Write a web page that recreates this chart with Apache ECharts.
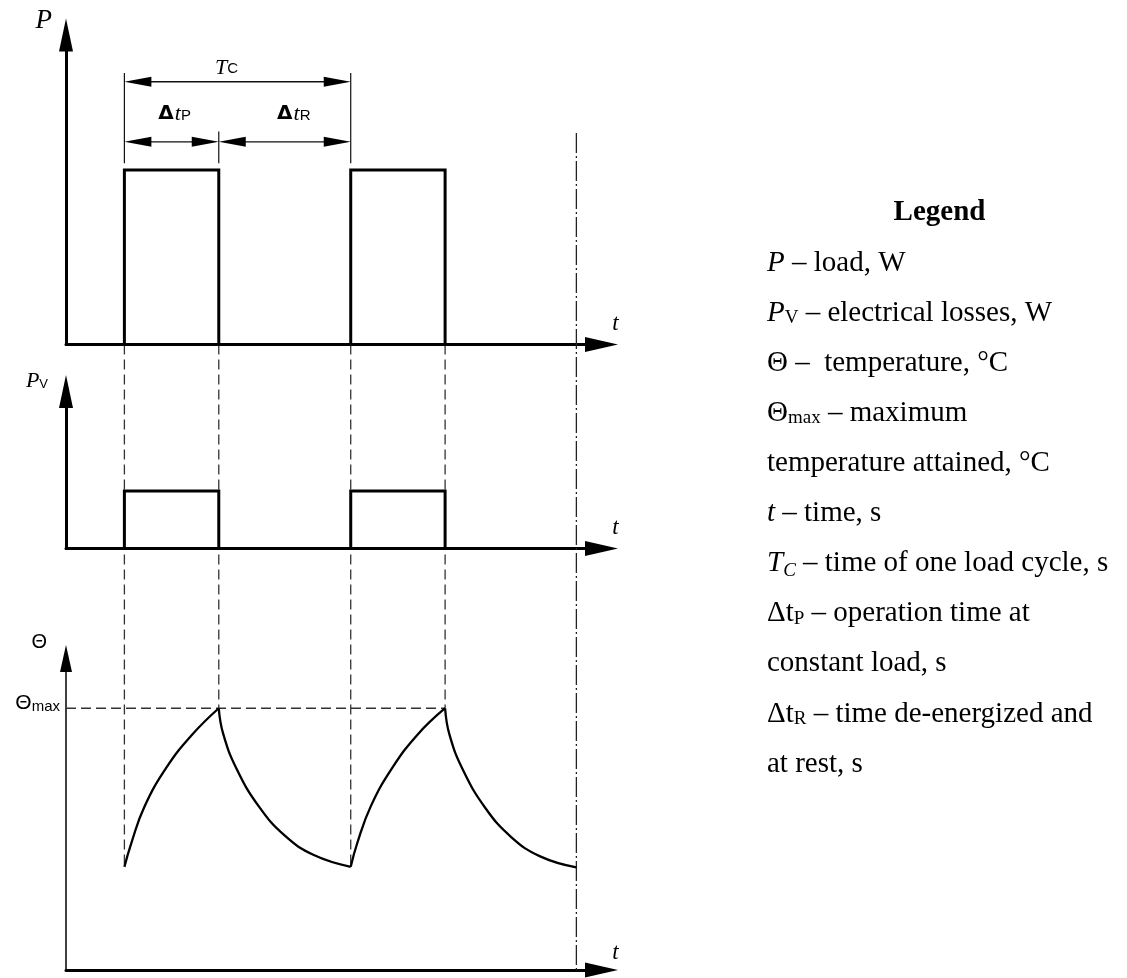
<!DOCTYPE html>
<html>
<head>
<meta charset="utf-8">
<script src="https://cdn.jsdelivr.net/npm/echarts@6/dist/echarts.min.js"></script>
<style>
  html, body { margin: 0; padding: 0; background: #fff; }
  #chart { width: 1127px; height: 978px; }
</style>
</head>
<body>
<div id="chart"></div>
<script>
// ---- duty cycle data (time in s, schematic units) ----
const pulseOn  = [2.58, 12.58];   // load switched on
const pulseOff = [6.75, 16.75];   // load switched off
const cycleEnd = 22.55;           // end of the second load cycle
const timeMax  = 23.66;

const loadLevel = 5.64;           // P while operating
const lossLevel = 3.66;           // P_V while operating
const thetaMax  = 100;            // Θmax

// temperature Θ over time: [t, Θ]
const heating1 = [[2.58, 39.4], [2.89, 48.6], [3.46, 62.3], [4.44, 77.4], [5.54, 89.6], [6.75, 100]];
const cooling1 = [[6.75, 100], [6.94, 90.4], [7.53, 77.0], [8.52, 62.5], [9.67, 51.3], [10.95, 43.9], [12.58, 39.4]];
const heating2 = [[12.58, 39.4], [12.88, 48.8], [13.47, 62.6], [14.40, 77.0], [15.52, 89.8], [16.75, 100]];
const cooling2 = [[16.75, 100], [16.94, 90.0], [17.53, 76.6], [18.52, 62.0], [19.67, 50.8], [20.95, 43.4], [22.55, 39.2]];

// dimension labels above the P diagram
const dimLabels = ['{it|T}{sub|C}', '{d|Δ}{it|t}{sub|P}', '{d|Δ}{it|t}{sub|R}'];

// explanation of symbols
const legendTitle = 'Legend';
const legendRows = [
  '{i|P} – load, W',
  '{i|P}{s|V} – electrical losses, W',
  'Θ –  temperature, °C',
  'Θ{s|max} – maximum',
  'temperature attained, °C',
  '{i|t} – time, s',
  '{i|T}{is|C} – time of one load cycle, s',
  'Δt{s|P} – operation time at',
  'constant load, s',
  'Δt{s|R} – time de-energized and',
  'at rest, s'
];

// ---- drawing ----
const BLACK = '#000';
const SERIF = 'Liberation Serif';
const SANS = 'Liberation Sans';

function pulseData(level) {
  const d = [];
  pulseOn.forEach((on, i) => {
    d.push([on, 0], [on, level], [pulseOff[i], level], [pulseOff[i], 0]);
  });
  return d;
}

const cycleDimLevel = 8.49;   // P-axis height of the T_C dimension
const phaseDimLevel = 6.55;   // P-axis height of the Δt dimensions
const dimData = [
  [pulseOn[0], pulseOn[1], cycleDimLevel],
  [pulseOn[0], pulseOff[0], phaseDimLevel],
  [pulseOff[0], pulseOn[1], phaseDimLevel]
];
const dimLook = [{ dx: -11, rise: 14 }, { dx: 3, rise: 27.5 }, { dx: 9, rise: 27.5 }];
const extData = [
  [pulseOn[0], 5.86, 8.77],
  [pulseOff[0], 5.86, 6.88],
  [pulseOn[1], 5.86, 8.77]
];
const dashDotTop = 6.83;

const dimRich = {
  it:  { fontFamily: SERIF, fontStyle: 'italic', fontSize: 22, fill: BLACK },
  sub: { fontFamily: SANS, fontSize: 15, fill: BLACK, padding: [3, 0, 0, 0] },
  d:   { fontFamily: 'DejaVu Sans', fontWeight: 'bold', fontSize: 20, fill: BLACK, padding: [0, 1, 0, 0] }
};

function renderDimension(params, api) {
  const i = params.dataIndex;
  const a = api.coord([api.value(0), api.value(2)]);
  const b = api.coord([api.value(1), api.value(2)]);
  const L = 27, w = 5;
  return {
    type: 'group',
    children: [
      { type: 'line', shape: { x1: a[0] + 10, y1: a[1], x2: b[0] - 10, y2: b[1] },
        style: { stroke: '#111', lineWidth: 1.3 } },
      { type: 'polygon', shape: { points: [[a[0], a[1]], [a[0] + L, a[1] - w], [a[0] + L, a[1] + w]] },
        style: { fill: BLACK } },
      { type: 'polygon', shape: { points: [[b[0], b[1]], [b[0] - L, b[1] - w], [b[0] - L, b[1] + w]] },
        style: { fill: BLACK } },
      { type: 'text', x: (a[0] + b[0]) / 2 + dimLook[i].dx, y: a[1] - dimLook[i].rise,
        style: { text: dimLabels[i], rich: dimRich, align: 'center', verticalAlign: 'middle',
                 fontFamily: SERIF, fontSize: 22, fill: BLACK } }
    ]
  };
}

function renderExtension(params, api) {
  const a = api.coord([api.value(0), api.value(1)]);
  const b = api.coord([api.value(0), api.value(2)]);
  return { type: 'line', shape: { x1: a[0], y1: a[1], x2: b[0], y2: b[1] },
           style: { stroke: '#111', lineWidth: 1.2 } };
}

const gridBox = [
  { top: 35,    height: 309.5 },
  { top: 391.5, height: 157 },
  { top: 658.5, height: 311.5 }
];

// the time label sits above the end of each time axis
const tNameStyle = (raise) => ({
  align: 'center', verticalAlign: 'middle',
  rich: {
    t: { fontFamily: SERIF, fontStyle: 'italic', fontSize: 23, color: BLACK,
         padding: [0, 0, raise * 2, 0] }
  }
});

const option = {
  animation: false,
  backgroundColor: '#fff',
  grid: gridBox.map(g => ({
    left: 66, width: 535.5, top: g.top, height: g.height,
    containLabel: false, outerBoundsMode: 'none'
  })),
  xAxis: [21, 21, 17.5].map((raise, i) => ({
    gridIndex: i, type: 'value', min: 0, max: timeMax,
    axisLine: { show: true, onZero: false, symbol: ['none', 'triangle'], symbolSize: [15, 33],
                lineStyle: { color: BLACK, width: 3 } },
    axisTick: { show: false }, axisLabel: { show: false }, splitLine: { show: false },
    name: '{t|t}', nameLocation: 'end', nameGap: 14, nameMoveOverlap: false,
    nameTextStyle: tNameStyle(raise)
  })),
  yAxis: [
    {
      gridIndex: 0, type: 'value', min: 0, max: 10,
      axisLine: { show: true, onZero: false, symbol: ['none', 'triangle'], symbolSize: [14, 33],
                  lineStyle: { color: BLACK, width: 3 } },
      axisTick: { show: false }, axisLabel: { show: false }, splitLine: { show: false },
      name: 'P', nameLocation: 'end', nameGap: 14, nameMoveOverlap: false,
      nameTextStyle: { fontFamily: SERIF, fontStyle: 'italic', fontSize: 27, color: BLACK,
                       align: 'right', verticalAlign: 'middle', padding: [0, 14, 0, 0] }
    },
    {
      gridIndex: 1, type: 'value', min: 0, max: 10,
      axisLine: { show: true, onZero: false, symbol: ['none', 'triangle'], symbolSize: [14, 33],
                  lineStyle: { color: BLACK, width: 3 } },
      axisTick: { show: false }, axisLabel: { show: false }, splitLine: { show: false },
      name: '{i|P}{s|V}', nameLocation: 'end', nameGap: 10, nameMoveOverlap: false,
      nameTextStyle: {
        align: 'right', verticalAlign: 'middle', padding: [0, 18, 0, 0],
        rich: {
          i: { fontFamily: SERIF, fontStyle: 'italic', fontSize: 22, color: BLACK },
          s: { fontFamily: SANS, fontSize: 13, color: BLACK, padding: [6, 0, 0, 0] }
        }
      }
    },
    {
      gridIndex: 2, type: 'value', min: 0, max: 119,
      axisLine: { show: true, onZero: false, symbol: ['none', 'triangle'], symbolSize: [12, 27],
                  lineStyle: { color: BLACK, width: 1.5 } },
      axisTick: { show: false }, splitLine: { show: false },
      axisLabel: {
        show: true, customValues: [thetaMax], margin: 6,
        formatter: v => (Math.abs(v - thetaMax) < 1e-6 ? '{a|Θ}{b|max}' : ''),
        verticalAlign: 'middle', padding: [0, 0, 11, 0],
        rich: {
          a: { fontFamily: SANS, fontSize: 21, color: BLACK },
          b: { fontFamily: SANS, fontSize: 15, color: BLACK, padding: [8, 0, 0, 0] }
        }
      },
      name: 'Θ', nameLocation: 'end', nameGap: 16.5, nameMoveOverlap: false,
      nameTextStyle: { fontFamily: SANS, fontSize: 20, color: BLACK,
                       align: 'right', verticalAlign: 'middle', padding: [0, 19, 0, 0] }
    }
  ],
  series: [
    { name: 'P', type: 'line', xAxisIndex: 0, yAxisIndex: 0, data: pulseData(loadLevel),
      symbol: 'none', silent: true, lineStyle: { color: BLACK, width: 3, cap: 'square', join: 'miter' } },
    { name: 'PV', type: 'line', xAxisIndex: 1, yAxisIndex: 1, data: pulseData(lossLevel),
      symbol: 'none', silent: true, lineStyle: { color: BLACK, width: 3, cap: 'square', join: 'miter' } },
    { name: 'Θmax', type: 'line', xAxisIndex: 2, yAxisIndex: 2,
      data: [[0, thetaMax], [pulseOff[1], thetaMax]], symbol: 'none', silent: true, z: 1,
      lineStyle: { color: '#333', width: 1.3, type: [10, 5] } },
    ...[heating1, cooling1, heating2, cooling2].map(seg => ({
      type: 'line', xAxisIndex: 2, yAxisIndex: 2, data: seg, smooth: 0.45,
      symbol: 'none', silent: true, lineStyle: { color: BLACK, width: 2.3 }
    })),
    { type: 'custom', xAxisIndex: 0, yAxisIndex: 0, data: dimData, renderItem: renderDimension, silent: true },
    { type: 'custom', xAxisIndex: 0, yAxisIndex: 0, data: extData, renderItem: renderExtension, silent: true }
  ]
};

const chart = echarts.init(document.getElementById('chart'), null, { renderer: 'canvas' });
chart.setOption(option);

// guide lines that run across the three diagrams, placed through the axes' own scales
const px = (g, pt) => chart.convertToPixel({ xAxisIndex: g, yAxisIndex: g }, pt);
const guides = [];
const starts = [heating1[0], heating2[0]];
const peaks = [heating1[heating1.length - 1], heating2[heating2.length - 1]];
pulseOn.forEach((t, i) => {
  const a = px(0, [t, 0]), b = px(2, [t, starts[i][1]]);
  guides.push({ type: 'line', z: 1, shape: { x1: a[0], y1: a[1], x2: b[0], y2: b[1] },
                style: { stroke: '#333', lineWidth: 1.3, lineDash: [10, 5] } });
});
pulseOff.forEach((t, i) => {
  const a = px(0, [t, 0]), b = px(2, [t, peaks[i][1]]);
  guides.push({ type: 'line', z: 1, shape: { x1: a[0], y1: a[1], x2: b[0], y2: b[1] },
                style: { stroke: '#333', lineWidth: 1.3, lineDash: [10, 5] } });
});
{
  const a = px(0, [cycleEnd, dashDotTop]), b = px(2, [cycleEnd, 0]);
  guides.push({ type: 'line', z: 1, shape: { x1: a[0], y1: a[1], x2: b[0], y2: b[1] },
                style: { stroke: '#222', lineWidth: 1.3, lineDash: [20, 3, 2, 3] } });
}

// symbol explanations on the right
const legendRich = {
  i:  { fontFamily: SERIF, fontStyle: 'italic', fontSize: 29, fill: BLACK },
  s:  { fontFamily: SERIF, fontSize: 19, fill: BLACK, padding: [10, 0, 0, 0] },
  is: { fontFamily: SERIF, fontStyle: 'italic', fontSize: 19, fill: BLACK, padding: [15, 0, 0, 0] }
};
guides.push({
  type: 'text', x: 939.5, y: 213,
  style: { text: legendTitle, fontFamily: SERIF, fontWeight: 'bold', fontSize: 29, fill: BLACK,
           align: 'center', verticalAlign: 'middle' }
});
legendRows.forEach((row, i) => {
  guides.push({
    type: 'text', x: 767, y: 263 + 50.1 * i,
    style: { text: row, rich: legendRich, fontFamily: SERIF, fontSize: 29, fill: BLACK,
             align: 'left', verticalAlign: 'middle' }
  });
});

chart.setOption({ graphic: { elements: guides } });
</script>
</body>
</html>
